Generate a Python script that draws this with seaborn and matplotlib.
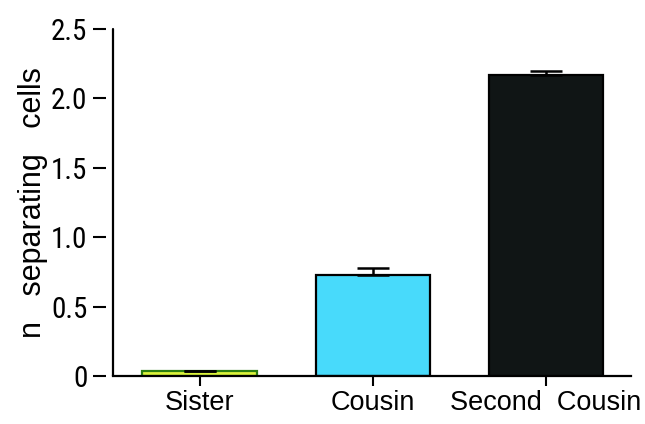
import matplotlib
matplotlib.use("Agg")
import matplotlib.pyplot as plt
import matplotlib.font_manager as fm
import seaborn as sns
import pandas as pd
import numpy as np

categories = ["Sister", "Cousin", "Second  Cousin"]
means = [0.035, 0.73, 2.17]
errors = [0.004, 0.05, 0.03]
y_ticks = [0, 0.5, 1.0, 1.5, 2.0, 2.5]
y_tick_labels = ["0", "0.5", "1.0", "1.5", "2.0", "2.5"]
face_colors = ["#dcf23c", "#48dafb", "#101515"]
edge_colors = ["#2a7d12", "#000000", "#000000"]

sns.set_theme(style="white")
plt.rcParams["font.family"] = ["Liberation Sans", "DejaVu Sans"]
plt.rcParams["text.color"] = "black"
plt.rcParams["axes.labelcolor"] = "black"
plt.rcParams["xtick.color"] = "black"
plt.rcParams["ytick.color"] = "black"

installed = {f.name for f in fm.fontManager.ttflist}
condensed = [n for n in ["Liberation Sans Narrow", "Roboto Condensed", "DejaVu Sans Condensed",
                         "Open Sans Condensed", "Noto Sans Condensed"] if n in installed]

df = pd.DataFrame({"group": categories, "value": means})

fig = plt.figure(figsize=(6.45, 4.24), dpi=100)
ax = fig.add_axes([113 / 645, 48 / 424, (631 - 113) / 645, (376 - 29) / 424])

sns.barplot(data=df, x="group", y="value", hue="group", palette=face_colors,
            saturation=1, errorbar=None, width=0.66, legend=False, ax=ax, zorder=2)
for patch, ec in zip(ax.patches, edge_colors):
    patch.set_edgecolor(ec)
    patch.set_linewidth(1.6)

xs = np.arange(len(categories))
ax.errorbar(xs, means, yerr=[np.zeros(len(means)), errors], fmt="none",
            ecolor="black", elinewidth=1.8, capsize=11.5, capthick=1.8, zorder=3)

ax.set_xlim(-0.5, 2.49)
ax.set_ylim(0, 2.5)
ax.set_yticks(y_ticks)
ax.set_yticklabels(y_tick_labels)
ax.set_xlabel("")
ax.set_ylabel("n   separating   cells", fontsize=22, labelpad=2, color="black")

for s in ["top", "right"]:
    ax.spines[s].set_visible(False)
ax.spines["bottom"].set_linewidth(1.6)
ax.spines["bottom"].set_color("black")
ax.spines["left"].set_position(("outward", 5))
ax.spines["left"].set_visible(False)
ax.axvline(ax.get_xlim()[0], color="black", linewidth=1.6, clip_on=False, zorder=4)

ytick_size = 21 if condensed else 18.5
ax.tick_params(axis="y", which="major", left=True, direction="out", length=9.5,
               width=1.5, color="black", labelcolor="black", labelsize=ytick_size, pad=4)
ax.tick_params(axis="x", which="major", bottom=True, direction="out", length=7,
               width=1.5, color="black", labelcolor="black", labelsize=19.5, pad=3)
for t in ax.get_yticklabels():
    t.set_fontfamily(condensed[:1] + ["Liberation Sans", "DejaVu Sans"])

fig.savefig("out.png", dpi=100)
